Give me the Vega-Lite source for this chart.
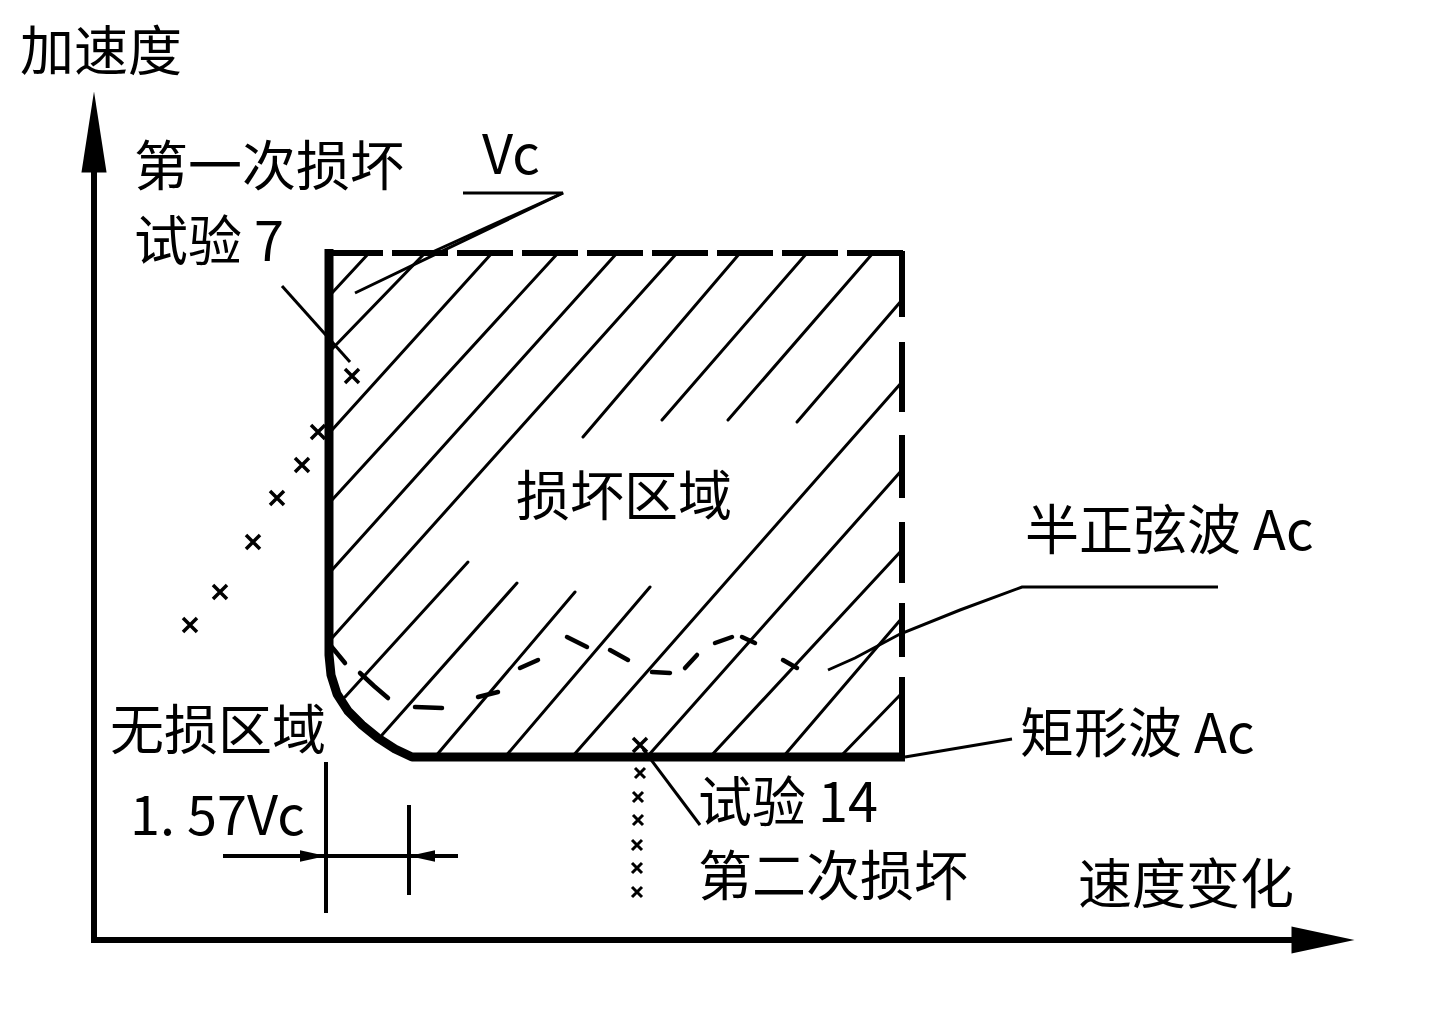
{
  "$schema": "https://vega.github.io/schema/vega-lite/v6.json",
  "width": 1434,
  "height": 1012,
  "autosize": {"type": "fit", "contains": "padding"},
  "padding": 0,
  "background": "white",
  "config": {"view": {"stroke": null}},
  "datasets": {
    "axes": [
      {"x": 94, "y": 170, "x2": 94, "y2": 943},
      {"x": 91, "y": 940, "x2": 1296, "y2": 940}
    ],
    "vArrow": [{"x": 94, "y": 132}],
    "hArrow": [{"x": 1323, "y": 940}],
    "boundary": [
      {"i": 0, "x": 329, "y": 249},
      {"i": 1, "x": 329, "y": 655},
      {"i": 2, "x": 331, "y": 675},
      {"i": 3, "x": 337, "y": 694},
      {"i": 4, "x": 348, "y": 711},
      {"i": 5, "x": 362, "y": 725},
      {"i": 6, "x": 378, "y": 738},
      {"i": 7, "x": 395, "y": 749},
      {"i": 8, "x": 412, "y": 757},
      {"i": 9, "x": 905, "y": 757}
    ],
    "topBorder": [{"x": 327, "y": 253, "x2": 905, "y2": 253}],
    "rightBorder": [
      {"x": 902, "y": 251, "x2": 902, "y2": 317},
      {"x": 902, "y": 342, "x2": 902, "y2": 412},
      {"x": 902, "y": 435, "x2": 902, "y2": 498},
      {"x": 902, "y": 522, "x2": 902, "y2": 583},
      {"x": 902, "y": 603, "x2": 902, "y2": 657},
      {"x": 902, "y": 677, "x2": 902, "y2": 757}
    ],
    "hatch": [
      {"x": 332, "y": 293, "x2": 369, "y2": 253},
      {"x": 332, "y": 349, "x2": 425, "y2": 253},
      {"x": 332, "y": 430, "x2": 492, "y2": 253},
      {"x": 332, "y": 500, "x2": 558, "y2": 253},
      {"x": 332, "y": 570, "x2": 617, "y2": 253},
      {"x": 332, "y": 638, "x2": 677, "y2": 253},
      {"x": 583, "y": 437, "x2": 740, "y2": 253},
      {"x": 345, "y": 697, "x2": 468, "y2": 562},
      {"x": 662, "y": 420, "x2": 807, "y2": 253},
      {"x": 382, "y": 735, "x2": 517, "y2": 583},
      {"x": 728, "y": 420, "x2": 873, "y2": 253},
      {"x": 435, "y": 757, "x2": 575, "y2": 592},
      {"x": 797, "y": 422, "x2": 902, "y2": 300},
      {"x": 505, "y": 757, "x2": 650, "y2": 587},
      {"x": 572, "y": 757, "x2": 902, "y2": 382},
      {"x": 647, "y": 757, "x2": 902, "y2": 470},
      {"x": 710, "y": 757, "x2": 902, "y2": 550},
      {"x": 783, "y": 757, "x2": 902, "y2": 618},
      {"x": 840, "y": 757, "x2": 902, "y2": 693}
    ],
    "sine": [
      {"seg": 1, "i": 0, "x": 331, "y": 646},
      {"seg": 1, "i": 1, "x": 345, "y": 663},
      {"seg": 2, "i": 0, "x": 360, "y": 673},
      {"seg": 2, "i": 1, "x": 374, "y": 686},
      {"seg": 2, "i": 2, "x": 388, "y": 698},
      {"seg": 3, "i": 0, "x": 415, "y": 707},
      {"seg": 3, "i": 1, "x": 442, "y": 708},
      {"seg": 4, "i": 0, "x": 478, "y": 697},
      {"seg": 4, "i": 1, "x": 498, "y": 692},
      {"seg": 5, "i": 0, "x": 520, "y": 668},
      {"seg": 5, "i": 1, "x": 538, "y": 660},
      {"seg": 6, "i": 0, "x": 567, "y": 637},
      {"seg": 6, "i": 1, "x": 587, "y": 647},
      {"seg": 7, "i": 0, "x": 610, "y": 650},
      {"seg": 7, "i": 1, "x": 628, "y": 660},
      {"seg": 8, "i": 0, "x": 652, "y": 672},
      {"seg": 8, "i": 1, "x": 670, "y": 673},
      {"seg": 9, "i": 0, "x": 685, "y": 668},
      {"seg": 9, "i": 1, "x": 697, "y": 655},
      {"seg": 10, "i": 0, "x": 715, "y": 643},
      {"seg": 10, "i": 1, "x": 732, "y": 637},
      {"seg": 11, "i": 0, "x": 742, "y": 637},
      {"seg": 11, "i": 1, "x": 755, "y": 643},
      {"seg": 12, "i": 0, "x": 783, "y": 660},
      {"seg": 12, "i": 1, "x": 797, "y": 668}
    ],
    "leaders": [
      {"id": "vc", "i": 0, "x": 463, "y": 193},
      {"id": "vc", "i": 1, "x": 563, "y": 193},
      {"id": "vc", "i": 2, "x": 355, "y": 293},
      {"id": "vc2", "i": 0, "x": 563, "y": 193},
      {"id": "vc2", "i": 1, "x": 428, "y": 254},
      {"id": "t7", "i": 0, "x": 282, "y": 286},
      {"id": "t7", "i": 1, "x": 350, "y": 362},
      {"id": "sine", "i": 0, "x": 828, "y": 670},
      {"id": "sine", "i": 1, "x": 855, "y": 658},
      {"id": "sine", "i": 2, "x": 900, "y": 634},
      {"id": "sine", "i": 3, "x": 960, "y": 610},
      {"id": "sine", "i": 4, "x": 1022, "y": 587},
      {"id": "sine", "i": 5, "x": 1218, "y": 587},
      {"id": "rect", "i": 0, "x": 905, "y": 757},
      {"id": "rect", "i": 1, "x": 1012, "y": 739},
      {"id": "t14", "i": 0, "x": 643, "y": 749},
      {"id": "t14", "i": 1, "x": 700, "y": 825}
    ],
    "dims": [
      {"x": 223, "y": 856, "x2": 458, "y2": 856},
      {"x": 326, "y": 762, "x2": 326, "y2": 913},
      {"x": 409, "y": 805, "x2": 409, "y2": 895}
    ],
    "dimRight": [{"x": 313, "y": 856}],
    "dimLeft": [{"x": 422, "y": 856}],
    "marksBig": [
      {"x": 190, "y": 625},
      {"x": 220, "y": 592},
      {"x": 253, "y": 542},
      {"x": 277, "y": 498},
      {"x": 302, "y": 465},
      {"x": 318, "y": 432},
      {"x": 352, "y": 376},
      {"x": 640, "y": 745}
    ],
    "marksSmall": [
      {"x": 640, "y": 773},
      {"x": 638, "y": 797},
      {"x": 638, "y": 820},
      {"x": 637, "y": 845},
      {"x": 637, "y": 868},
      {"x": 637, "y": 892}
    ],
    "labels": [
      {"x": 20, "y": 55, "label": "加速度"},
      {"x": 134, "y": 170, "label": "第一次损坏"},
      {"x": 134, "y": 245, "label": "试验 7"},
      {"x": 482, "y": 158, "label": "Vc"},
      {"x": 516, "y": 500, "label": "损坏区域"},
      {"x": 1025, "y": 534, "label": "半正弦波 Ac"},
      {"x": 1020, "y": 737, "label": "矩形波 Ac"},
      {"x": 110, "y": 734, "label": "无损区域"},
      {"x": 130, "y": 819, "label": "1. 57Vc"},
      {"x": 698, "y": 806, "label": "试验 14"},
      {"x": 698, "y": 880, "label": "第二次损坏"},
      {"x": 1078, "y": 888, "label": "速度变化"}
    ]
  },
  "layer": [
    {
      "data": {"name": "hatch"},
      "mark": {"type": "rule", "color": "black", "strokeWidth": 3, "strokeCap": "round"},
      "encoding": {
        "x": {"field": "x", "type": "quantitative", "scale": {"domain": [0, 1434], "nice": false, "zero": false}, "axis": null},
        "y": {"field": "y", "type": "quantitative", "scale": {"domain": [0, 1012], "reverse": true, "nice": false, "zero": false}, "axis": null},
        "x2": {"field": "x2"},
        "y2": {"field": "y2"}
      }
    },
    {
      "data": {"name": "axes"},
      "mark": {"type": "rule", "color": "black", "strokeWidth": 6},
      "encoding": {
        "x": {"field": "x", "type": "quantitative", "scale": {"domain": [0, 1434], "nice": false, "zero": false}, "axis": null},
        "y": {"field": "y", "type": "quantitative", "scale": {"domain": [0, 1012], "reverse": true, "nice": false, "zero": false}, "axis": null},
        "x2": {"field": "x2"},
        "y2": {"field": "y2"}
      }
    },
    {
      "data": {"name": "vArrow"},
      "mark": {"type": "point", "shape": "M0,-1L0.31,1L-0.31,1Z", "size": 6561, "filled": true, "color": "black", "opacity": 1, "strokeWidth": 0},
      "encoding": {
        "x": {"field": "x", "type": "quantitative", "scale": {"domain": [0, 1434], "nice": false, "zero": false}, "axis": null},
        "y": {"field": "y", "type": "quantitative", "scale": {"domain": [0, 1012], "reverse": true, "nice": false, "zero": false}, "axis": null}
      }
    },
    {
      "data": {"name": "hArrow"},
      "mark": {"type": "point", "shape": "M1,0L-1,-0.43L-1,0.43Z", "size": 3969, "filled": true, "color": "black", "opacity": 1, "strokeWidth": 0},
      "encoding": {
        "x": {"field": "x", "type": "quantitative", "scale": {"domain": [0, 1434], "nice": false, "zero": false}, "axis": null},
        "y": {"field": "y", "type": "quantitative", "scale": {"domain": [0, 1012], "reverse": true, "nice": false, "zero": false}, "axis": null}
      }
    },
    {
      "data": {"name": "topBorder"},
      "mark": {"type": "rule", "color": "black", "strokeWidth": 6, "strokeDash": [56, 9]},
      "encoding": {
        "x": {"field": "x", "type": "quantitative", "scale": {"domain": [0, 1434], "nice": false, "zero": false}, "axis": null},
        "y": {"field": "y", "type": "quantitative", "scale": {"domain": [0, 1012], "reverse": true, "nice": false, "zero": false}, "axis": null},
        "x2": {"field": "x2"},
        "y2": {"field": "y2"}
      }
    },
    {
      "data": {"name": "rightBorder"},
      "mark": {"type": "rule", "color": "black", "strokeWidth": 6},
      "encoding": {
        "x": {"field": "x", "type": "quantitative", "scale": {"domain": [0, 1434], "nice": false, "zero": false}, "axis": null},
        "y": {"field": "y", "type": "quantitative", "scale": {"domain": [0, 1012], "reverse": true, "nice": false, "zero": false}, "axis": null},
        "x2": {"field": "x2"},
        "y2": {"field": "y2"}
      }
    },
    {
      "data": {"name": "boundary"},
      "mark": {"type": "line", "color": "black", "strokeWidth": 9, "strokeJoin": "round"},
      "encoding": {
        "x": {"field": "x", "type": "quantitative", "scale": {"domain": [0, 1434], "nice": false, "zero": false}, "axis": null},
        "y": {"field": "y", "type": "quantitative", "scale": {"domain": [0, 1012], "reverse": true, "nice": false, "zero": false}, "axis": null},
        "order": {"field": "i", "type": "quantitative"}
      }
    },
    {
      "data": {"name": "sine"},
      "mark": {"type": "line", "color": "black", "strokeWidth": 4.5, "strokeCap": "round"},
      "encoding": {
        "x": {"field": "x", "type": "quantitative", "scale": {"domain": [0, 1434], "nice": false, "zero": false}, "axis": null},
        "y": {"field": "y", "type": "quantitative", "scale": {"domain": [0, 1012], "reverse": true, "nice": false, "zero": false}, "axis": null},
        "detail": {"field": "seg", "type": "nominal"},
        "order": {"field": "i", "type": "quantitative"}
      }
    },
    {
      "data": {"name": "leaders"},
      "mark": {"type": "line", "color": "black", "strokeWidth": 3, "interpolate": "linear"},
      "encoding": {
        "x": {"field": "x", "type": "quantitative", "scale": {"domain": [0, 1434], "nice": false, "zero": false}, "axis": null},
        "y": {"field": "y", "type": "quantitative", "scale": {"domain": [0, 1012], "reverse": true, "nice": false, "zero": false}, "axis": null},
        "detail": {"field": "id", "type": "nominal"},
        "order": {"field": "i", "type": "quantitative"}
      }
    },
    {
      "data": {"name": "dims"},
      "mark": {"type": "rule", "color": "black", "strokeWidth": 4},
      "encoding": {
        "x": {"field": "x", "type": "quantitative", "scale": {"domain": [0, 1434], "nice": false, "zero": false}, "axis": null},
        "y": {"field": "y", "type": "quantitative", "scale": {"domain": [0, 1012], "reverse": true, "nice": false, "zero": false}, "axis": null},
        "x2": {"field": "x2"},
        "y2": {"field": "y2"}
      }
    },
    {
      "data": {"name": "dimRight"},
      "mark": {"type": "point", "shape": "M1,0L-1,-0.45L-1,0.45Z", "size": 676, "filled": true, "color": "black", "opacity": 1, "strokeWidth": 0},
      "encoding": {
        "x": {"field": "x", "type": "quantitative", "scale": {"domain": [0, 1434], "nice": false, "zero": false}, "axis": null},
        "y": {"field": "y", "type": "quantitative", "scale": {"domain": [0, 1012], "reverse": true, "nice": false, "zero": false}, "axis": null}
      }
    },
    {
      "data": {"name": "dimLeft"},
      "mark": {"type": "point", "shape": "M-1,0L1,-0.45L1,0.45Z", "size": 676, "filled": true, "color": "black", "opacity": 1, "strokeWidth": 0},
      "encoding": {
        "x": {"field": "x", "type": "quantitative", "scale": {"domain": [0, 1434], "nice": false, "zero": false}, "axis": null},
        "y": {"field": "y", "type": "quantitative", "scale": {"domain": [0, 1012], "reverse": true, "nice": false, "zero": false}, "axis": null}
      }
    },
    {
      "data": {"name": "marksBig"},
      "mark": {"type": "point", "shape": "M-1,-1L1,1M1,-1L-1,1", "size": 196, "filled": false, "color": "black", "opacity": 1, "strokeWidth": 3.5},
      "encoding": {
        "x": {"field": "x", "type": "quantitative", "scale": {"domain": [0, 1434], "nice": false, "zero": false}, "axis": null},
        "y": {"field": "y", "type": "quantitative", "scale": {"domain": [0, 1012], "reverse": true, "nice": false, "zero": false}, "axis": null}
      }
    },
    {
      "data": {"name": "marksSmall"},
      "mark": {"type": "point", "shape": "M-1,-1L1,1M1,-1L-1,1", "size": 100, "filled": false, "color": "black", "opacity": 1, "strokeWidth": 3},
      "encoding": {
        "x": {"field": "x", "type": "quantitative", "scale": {"domain": [0, 1434], "nice": false, "zero": false}, "axis": null},
        "y": {"field": "y", "type": "quantitative", "scale": {"domain": [0, 1012], "reverse": true, "nice": false, "zero": false}, "axis": null}
      }
    },
    {
      "data": {"name": "labels"},
      "mark": {"type": "text", "align": "left", "baseline": "middle", "font": "Noto Sans CJK SC", "fontSize": 54, "color": "black"},
      "encoding": {
        "x": {"field": "x", "type": "quantitative", "scale": {"domain": [0, 1434], "nice": false, "zero": false}, "axis": null},
        "y": {"field": "y", "type": "quantitative", "scale": {"domain": [0, 1012], "reverse": true, "nice": false, "zero": false}, "axis": null},
        "text": {"field": "label", "type": "nominal"}
      }
    }
  ]
}
